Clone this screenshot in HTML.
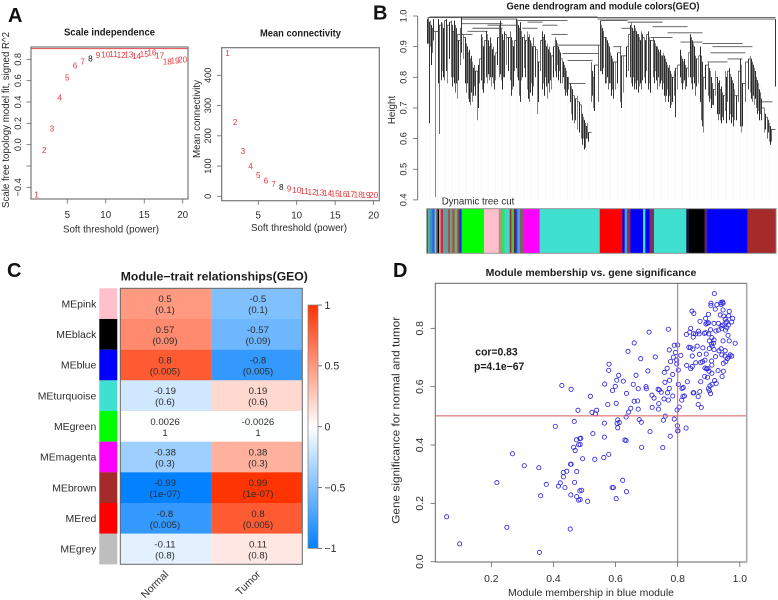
<!DOCTYPE html>
<html lang="en">
<head>
<meta charset="utf-8">
<title>WGCNA module analysis figure</title>
<style>
html,body{margin:0;padding:0;background:#fff;width:778px;height:600px;overflow:hidden}
svg{display:block;filter:blur(0.3px)}
text{font-family:"Liberation Sans",sans-serif;fill:#2c2c2c}
.bold{font-weight:bold;fill:#1c1c1c}
.panel{font-weight:bold;font-size:20px;fill:#111}
</style>
</head>
<body>
<svg id="figure" xmlns="http://www.w3.org/2000/svg" width="778" height="600" viewBox="0 0 778 600">
  <defs>
    <linearGradient id="corrGradient" x1="0" y1="0" x2="0" y2="1">
      <stop offset="0" stop-color="#ff3200"/>
      <stop offset="0.5" stop-color="#ffffff"/>
      <stop offset="1" stop-color="#0080ff"/>
    </linearGradient>
  </defs>
  <rect x="0" y="0" width="778" height="600" fill="#fff"/>

  <text class="panel" x="8" y="22">A</text>
  <text class="panel" x="373" y="19.5">B</text>
  <text class="panel" x="7" y="277">C</text>
  <text class="panel" x="393" y="277">D</text>

  <text class="bold" x="109.5" y="35.5" font-size="10" text-anchor="middle" textLength="91" lengthAdjust="spacingAndGlyphs">Scale independence</text>
  <text x="111" y="232.5" font-size="9.8" text-anchor="middle" textLength="96" lengthAdjust="spacingAndGlyphs">Soft threshold (power)</text>
  <text transform="translate(9,120) rotate(-90)" font-size="9.8" text-anchor="middle" textLength="176" lengthAdjust="spacingAndGlyphs">Scale free topology model fit, signed R^2</text>

  <text class="bold" x="300.5" y="36.5" font-size="10" text-anchor="middle" textLength="81" lengthAdjust="spacingAndGlyphs">Mean connectivity</text>
  <text x="299" y="231" font-size="9.8" text-anchor="middle" textLength="96" lengthAdjust="spacingAndGlyphs">Soft threshold (power)</text>
  <text transform="translate(200,119) rotate(-90)" font-size="9.8" text-anchor="middle" textLength="78" lengthAdjust="spacingAndGlyphs">Mean connectivity</text>

  <text class="bold" x="603" y="9.5" font-size="10" text-anchor="middle" textLength="193" lengthAdjust="spacingAndGlyphs">Gene dendrogram and module colors(GEO)</text>
  <text transform="translate(395,110) rotate(-90)" font-size="9.8" text-anchor="middle">Height</text>
  <text x="441.7" y="204.5" font-size="9.8" textLength="72.6" lengthAdjust="spacingAndGlyphs">Dynamic tree cut</text>

  <text class="bold" x="214.3" y="280.5" font-size="11.8" text-anchor="middle" textLength="187" lengthAdjust="spacingAndGlyphs">Module−trait relationships(GEO)</text>

  <text class="bold" x="591" y="276" font-size="10.2" text-anchor="middle" textLength="210.6" lengthAdjust="spacingAndGlyphs">Module membership vs. gene significance</text>
  <text x="591" y="596" font-size="10.4" text-anchor="middle" textLength="166" lengthAdjust="spacingAndGlyphs">Module membership in blue module</text>
  <text transform="translate(399.5,420.3) rotate(-90)" font-size="11" text-anchor="middle" textLength="207" lengthAdjust="spacingAndGlyphs">Gene significance for normal and tumor</text>
  <text class="bold" x="475.3" y="355.5" font-size="10.6" textLength="42.4" lengthAdjust="spacingAndGlyphs">cor=0.83</text>
  <text class="bold" x="474" y="370" font-size="10.6" textLength="50.3" lengthAdjust="spacingAndGlyphs">p=4.1e−67</text>
</svg>

<script>
// ---------- Panel A data ----------
const softPowers = [1,2,3,4,5,6,7,8,9,10,11,12,13,14,15,16,17,18,19,20];
const scaleFit = [-0.465,-0.05,0.15,0.444,0.63,0.744,0.78,0.806,0.84,0.845,0.85,0.84,0.845,0.83,0.85,0.865,0.835,0.78,0.79,0.8];
const meanConnectivity = [473,245,150,100,70,53,41,31,25,21,17.5,15,13,11,10,8,7,5.5,4.5,4];
const powerTicks = [5,10,15,20];
const scaleTicks = [-0.4,-0.2,0,0.2,0.4,0.6,0.8];
const scaleTickLabels = ["−0.4","","0.0","0.2","0.4","0.6","0.8"];
const connectivityTicks = [0,100,200,300,400];
const fitThreshold = 0.9;

// ---------- Panel B data: [leaf position, top height, bottom height] ----------
const branches = [
[0,.99,.91],[1,.995,.91],[2,.98,.65],[3,.985,.9],[4,.97,.84],[5,.96,.88],[6,.99,.92],[8,.95,.41],
[11,.99,.78],[12,.97,.615],[14,.98,.79],[15,.975,.82],[16,.96,.8],[17,.985,.79],[19,.99,.82],[20,.97,.78],[22,.98,.86],
[24,.985,.8],[25,.97,.77],[26,.95,.8],[27,.985,.78],[28,.97,.75],[29,.96,.78],[30,.94,.73],[31,.92,.79],[33,.96,.84],[34,.995,.88],[36,.94,.86],
[38,.93,.78],[39,.91,.75],[40,.9,.78],[41,.88,.73],[42,.89,.72],[43,.86,.71],[44,.87,.75],[45,.85,.72],[46,.83,.74],[47,.84,.77],[48,.82,.74],
[50,.82,.66],[51,.84,.7],[52,.86,.78],[54,.94,.79],[55,.93,.76],[56,.9,.75],[57,.92,.78],
[59,.95,.8],[60,.94,.78],[61,.92,.81],[62,.9,.79],[63,.93,.8],[64,.91,.77],[65,.89,.8],[66,.9,.78],[67,.87,.76],[68,.88,.79],[70,.93,.84],
[72,.97,.8],[73,.985,.81],[74,.96,.79],[75,.94,.76],[76,.92,.8],[77,.95,.8],[79,.94,.84],[81,.93,.82],
[83,.95,.79],[84,.93,.74],[85,.92,.76],[86,.9,.77],[87,.92,.82],
[89,.99,.83],[90,.985,.8],[91,.97,.79],[92,.96,.74],[93,.98,.72],[94,.95,.79],[95,.93,.8],[97,.94,.83],[98,.92,.8],
[100,.95,.76],[101,.93,.73],[102,.94,.72],[103,.92,.75],[104,.91,.78],[105,.9,.74],[106,.93,.77],[108,.9,.8],[110,.89,.68],[111,.85,.72],[113,.92,.82],
[115,.95,.76],[116,.93,.78],[117,.94,.74],[118,.92,.8],[119,.9,.77],[120,.91,.73],[121,.89,.78],[122,.9,.75],[123,.88,.79],[124,.87,.76],[126,.9,.8],
[128,.93,.82],[129,.92,.8],[130,.91,.84],[131,.9,.79],[132,.89,.82],[133,.88,.78],
[135,.86,.78],[136,.85,.8],[137,.84,.76],[138,.83,.74],[139,.82,.75],[140,.8,.74],[141,.8,.76],
[143,.78,.72],[144,.77,.68],[145,.76,.66],[147,.74,.65],[148,.73,.66],
[150,.74,.63],[152,.72,.62],[154,.71,.6],[155,.68,.58],[156,.67,.6],[157,.66,.565],[158,.65,.57],[159,.64,.6],[160,.65,.6],[161,.62,.59],
[164,.85,.72],[165,.82,.74],[166,.8,.7],[167,.84,.69],[171,.905,.72],
[173,.985,.82],[174,.97,.82],[175,.96,.81],[176,.95,.83],[178,.93,.78],[179,.93,.78],[180,.92,.8],[181,.91,.76],[182,.9,.78],[183,.88,.78],[184,.87,.74],[185,.86,.76],[186,.85,.73],[188,.85,.76],[190,.88,.78],
[193,.9,.72],[194,.87,.7],[196,.87,.75],[199,.9,.8],[201,.94,.82],
[203,.97,.8],[204,.98,.78],[205,.96,.77],[206,.95,.8],[207,.97,.76],[208,.96,.78],[209,.95,.76],[210,.94,.79],[211,.94,.75],[212,.93,.77],[213,.92,.78],[214,.95,.76],[215,.94,.79],
[217,.93,.8],[218,.92,.78],[219,.94,.82],[221,.95,.76],[222,.93,.78],[223,.92,.75],
[226,.93,.8],[227,.92,.78],[228,.91,.82],[229,.9,.79],[230,.9,.76],[231,.89,.8],[232,.88,.77],[233,.89,.78],[234,.87,.79],[235,.87,.76],
[236,.88,.78],[237,.87,.74],[238,.86,.72],[239,.85,.74],[240,.84,.76],[241,.83,.72],[242,.84,.74],[243,.82,.7],[244,.81,.71],[245,.8,.72],[247,.82,.74],[248,.83,.67],[250,.84,.76],
[253,.89,.8],[254,.87,.78],[255,.86,.76],[256,.85,.78],[257,.86,.79],[258,.84,.76],[259,.83,.77],[261,.88,.8],
[263,.94,.8],[264,.93,.78],[265,.92,.76],[266,.91,.8],[267,.9,.78],[268,.87,.74],[269,.86,.77],[271,.87,.78],
[273,.9,.72],[274,.87,.66],[275,.85,.64],[276,.8,.62],[278,.84,.76],
[281,.85,.74],[282,.83,.72],[283,.82,.73],[284,.8,.7],[285,.78,.71],[286,.76,.71],[288,.82,.74],
[290,.8,.68],[291,.78,.66],[292,.79,.68],[293,.76,.66],[294,.77,.65],[295,.75,.67],[296,.74,.66],[298,.82,.69],[299,.8,.65],[300,.82,.72],
[302,.83,.66],[303,.81,.68],[304,.8,.65],[305,.79,.67],[306,.78,.64],[307,.76,.66],[309,.74,.66],[311,.82,.72],
[313,.86,.64],[314,.84,.62],[315,.78,.64],[318,.85,.72],[321,.86,.76],
[323,.87,.75],[324,.86,.73],[325,.85,.72],[326,.84,.74],[327,.83,.71],[328,.82,.73],[329,.8,.7],
[330,.79,.68],[331,.78,.69],[332,.76,.66],[333,.75,.68],[334,.73,.66],
[337,.7,.62],[338,.68,.63],[340,.67,.6],[341,.66,.62],[342,.65,.59],[343,.64,.58],[344,.63,.59],[348,.99,.77]
];
// [start leaf, end leaf, height]
const links = [
[2,348,.995],[2,170,.997],[0,30,.995],[34,90,.99],[60,90,.97],[34,75,.975],[100,115,.98],[90,140,.985],[115,130,.97],
[124,140,.94],[131,171,.905],[135,171,.878],[140,165,.855],[143,158,.78],[170,348,.99],[173,200,.985],[200,235,.98],
[225,260,.965],[240,275,.945],[253,275,.915],[275,315,.91],[285,325,.9],[283,318,.88],[280,300,.85],
[40,60,.95],[45,75,.96],[95,110,.96],[30,45,.94],[186,194,.9],[194,204,.96],[223,245,.93],[300,315,.86],[330,345,.72]
];
const moduleColors = ["#2050d0","#50b090","#4090c0","#3060e0","#40e0d0","#a52a2a","#000000","#d89090","#c03040","#60a0a0","#a05050","#70a080","#a05050","#70b070","#a04040","#1030f0","#00ff00","#ffc0cb","#b89080","#30e060","#40d8c8","#a52a2a","#50c050","#602020","#2040e0","#50a0f0","#806060","#ff00ff","#40e0d0","#ff0000","#0000ff","#40a0e0","#9a3040","#0000ff","#40e0d0","#0000ff","#803060","#40e0d0","#101040","#000000","#502090","#0000ff","#a52a2a"];
const moduleSizes = [4,5,8,7,5,5,3,5,7,15,6,7,7,8,6,7,67,44,8,10,15,5,8,4,6,7,13,47,180,68,7,7,10,38,7,13,13,97,7,48,8,120,86];
const heightTicks = [0.4,0.5,0.6,0.7,0.8,0.9,1.0];

// ---------- Panel C data ----------
const moduleNames = ["MEpink","MEblack","MEblue","MEturquoise","MEgreen","MEmagenta","MEbrown","MEred","MEgrey"];
const moduleStrip = ["#ffc0cb","#000000","#0000ff","#40e0d0","#00ff00","#ff00ff","#a52a2a","#ff0000","#bebebe"];
const traitNames = ["Normal","Tumor"];
const normalCor = [0.5,0.57,0.8,-0.19,0.0026,-0.38,-0.99,-0.8,-0.11];
const tumorCor = [-0.5,-0.57,-0.8,0.19,-0.0026,0.38,0.99,0.8,0.11];
const pValueText = ["(0.1)","(0.09)","(0.005)","(0.6)","1","(0.3)","(1e-07)","(0.005)","(0.8)"];
const legendTicks = [1,0.5,0,-0.5,-1];
const legendLabels = ["1","0.5","0","−0.5","−1"];

// ---------- Panel D data ----------
const membership = [.918,.907,.907,.926,.939,.945,.94,.946,.921,.946,.966,.937,.948,.964,.953,.977,.974,.958,.963,.955,.945,.94,.931,.917,.899,.891,.895,.899,.89,.846,.852,.872,.906,.891,.886,.9,.923,.931,.942,.958,.962,.954,.91,.902,.917,.946,.966,.985,.915,.909,.911,.902,.917,.94,.933,.953,.942,.952,.969,.974,.965,.96,.955,.947,.93,.947,.943,.919,.924,.911,.904,.902,.899,.906,.91,.897,.893,.888,.901,.896,.887,.909,.91,.922,.888,.88,.87,.858,.874,.847,.836,.841,.849,.863,.881,.892,.869,.867,.858,.85,.851,.842,.839,.828,.847,.842,.829,.874,.85,.852,.871,.866,.866,.876,.831,.818,.814,.822,.813,.817,.805,.81,.797,.786,.777,.793,.8,.789,.773,.77,.708,.66,.64,.681,.728,.579,.578,.704,.757,.766,.784,.774,.759,.802,.797,.802,.61,.666,.604,.625,.565,.599,.59,.657,.673,.698,.699,.635,.519,.717,.724,.737,.741,.747,.773,.767,.784,.756,.77,.739,.718,.738,.673,.66,.671,.575,.602,.649,.642,.524,.539,.535,.634,.76,.754,.789,.798,.676,.683,.607,.605,.612,.564,.607,.799,.827,.801,.527,.564,.711,.776,.8,.63,.634,.684,.752,.578,.562,.533,.494,.488,.486,.623,.589,.593,.635,.602,.491,.486,.51,.427,.457,.479,.467,.406,.474,.485,.465,.47,.481,.268,.306,.353,.455,.457,.432,.443,.475,.432,.218,.377,.422,.416,.437,.468,.359,.456,.475,.481,.485,.056,.25,.454,.098,.355];
const significance = [.919,.886,.878,.881,.888,.89,.882,.886,.866,.863,.858,.846,.842,.843,.831,.834,.822,.823,.811,.819,.811,.808,.817,.817,.819,.815,.817,.848,.834,.859,.851,.824,.795,.785,.783,.781,.791,.794,.8,.802,.776,.794,.768,.757,.76,.757,.757,.749,.749,.746,.739,.731,.727,.73,.723,.723,.709,.705,.709,.705,.702,.696,.686,.68,.655,.653,.635,.621,.611,.608,.603,.586,.593,.576,.646,.662,.661,.664,.653,.632,.635,.688,.674,.703,.691,.686,.711,.682,.683,.705,.735,.734,.729,.739,.733,.712,.781,.79,.781,.77,.782,.8,.787,.779,.669,.662,.673,.617,.579,.579,.583,.566,.539,.529,.617,.597,.594,.568,.554,.566,.53,.707,.691,.701,.686,.717,.743,.742,.726,.797,.787,.75,.721,.696,.702,.677,.656,.654,.649,.663,.642,.622,.615,.608,.678,.657,.639,.639,.622,.619,.609,.601,.587,.608,.593,.6,.593,.577,.567,.571,.561,.591,.589,.581,.594,.579,.568,.558,.554,.542,.529,.523,.523,.55,.551,.539,.543,.526,.513,.512,.519,.507,.496,.499,.485,.489,.52,.487,.478,.486,.474,.477,.475,.459,.466,.458,.449,.439,.427,.446,.43,.448,.417,.415,.392,.391,.368,.357,.351,.353,.423,.402,.279,.254,.254,.24,.216,.245,.213,.207,.604,.591,.519,.481,.464,.418,.422,.392,.381,.401,.37,.329,.322,.334,.334,.306,.31,.309,.291,.271,.265,.27,.259,.254,.272,.226,.229,.223,.211,.243,.154,.118,.112,.061,.032];
const membershipTicks = [0.2,0.4,0.6,0.8,1.0];
const membershipTickLabels = ["0.2","0.4","0.6","0.8","1.0"];
const significanceTicks = [0,0.2,0.4,0.6,0.8];
const significanceTickLabels = ["0.0","0.2","0.4","0.6","0.8"];
const membershipCut = 0.8;
const significanceCut = 0.5;

// ---------- Scales ----------
const svg = document.getElementById('figure');
const NS = 'http://www.w3.org/2000/svg';
const scaleX = v => 28.83 + 7.693 * v;
const scaleY = v => 144.7 - 106.7 * v;
const connX = v => 219.8 + 7.69 * v;
const connY = v => 196.3 - 0.3025 * v;
const leafX = v => 427.5 + v;
const heightY = v => 16 + (1 - v) * 306.5;
const scatterX = v => 429.2 + 310.6 * v;
const scatterY = v => 561.7 - 291.7 * v;
const legendY = v => 426.7 - 121.7 * v;
const ROW_TOP = 288.3, ROW_H = 30.67;
const rowY = i => ROW_TOP + i * ROW_H;

function corColor(v) {
  const t = Math.abs(v);
  if (v < 0) return 'rgb(' + Math.round(255 * (1 - t)) + ',' + Math.round(255 - 127 * t) + ',255)';
  return 'rgb(255,' + Math.round(255 - 205 * t) + ',' + Math.round(255 * (1 - t)) + ')';
}
function make(tag, attrs, parent) {
  const node = document.createElementNS(NS, tag);
  for (const k in attrs) node.setAttribute(k, attrs[k]);
  (parent || svg).appendChild(node);
  return node;
}
function group() {
  return make('g', {});
}

// ---------- Panel A: scale independence ----------
const gScale = group();


const scaleBox = make('rect', {x:31, y:47, width:157, height:152, fill:'none', stroke:'#777', 'stroke-width':1.2}, gScale);


const fitLine = make('line', {x1:31, x2:188, y1:scaleY(fitThreshold), y2:scaleY(fitThreshold), stroke:'#e8484c', 'stroke-width':1}, gScale);


powerTicks.forEach(t => {
  const tick = make('line', {x1:scaleX(t), x2:scaleX(t), y1:199, y2:203.5, stroke:'#666', 'stroke-width':0.8}, gScale);
  
  
  const lab = make('text', {x:scaleX(t), y:218, 'font-size':9.8, 'text-anchor':'middle'}, gScale);
  
  
  lab.textContent = t;
});
scaleTicks.forEach((t, i) => {
  const tick = make('line', {x1:26.5, x2:31, y1:scaleY(t), y2:scaleY(t), stroke:'#666', 'stroke-width':0.8}, gScale);
  
  
  if (scaleTickLabels[i]) {
    const lab = make('text', {transform:'translate(21,' + scaleY(t) + ') rotate(-90)', 'font-size':9.2, 'text-anchor':'middle'}, gScale);
    
    
    lab.textContent = scaleTickLabels[i];
  }
});
softPowers.forEach((p, i) => {
  const lab = make('text', {x:scaleX(p), y:scaleY(scaleFit[i]) + 3, 'font-size':8.2, 'text-anchor':'middle'}, gScale);
  
  
  lab.style.fill = p === 8 ? '#111' : '#e53a40';
  lab.textContent = p;
});

// ---------- Panel A: mean connectivity ----------
const gConn = group();


const connBox = make('rect', {x:221.7, y:47.7, width:157.6, height:153, fill:'none', stroke:'#777', 'stroke-width':1.2}, gConn);


powerTicks.forEach(t => {
  const tick = make('line', {x1:connX(t), x2:connX(t), y1:200.7, y2:205, stroke:'#666', 'stroke-width':0.8}, gConn);
  
  
  const lab = make('text', {x:connX(t), y:218.5, 'font-size':9.8, 'text-anchor':'middle'}, gConn);
  
  
  lab.textContent = t;
});
connectivityTicks.forEach(t => {
  const tick = make('line', {x1:217, x2:221.7, y1:connY(t), y2:connY(t), stroke:'#666', 'stroke-width':0.8}, gConn);
  
  
  const lab = make('text', {transform:'translate(211,' + connY(t) + ') rotate(-90)', 'font-size':9.2, 'text-anchor':'middle'}, gConn);
  
  
  lab.textContent = t;
});
softPowers.forEach((p, i) => {
  const lab = make('text', {x:connX(p), y:connY(meanConnectivity[i]) + 3, 'font-size':8.2, 'text-anchor':'middle'}, gConn);
  
  
  lab.style.fill = p === 8 ? '#111' : '#e53a40';
  lab.textContent = p;
});

// ---------- Panel B: dendrogram ----------
const gTree = group();


for (let p = 3; p < 350; p += 7.2) {
  const guide = make('line', {x1:leafX(p), x2:leafX(p), y1:heightY(0.78), y2:200, stroke:'#e8e8e8', 'stroke-width':0.6, 'stroke-dasharray':'1 1'}, gTree);
  
  
}
const axisTree = make('line', {x1:417.7, x2:417.7, y1:heightY(1), y2:heightY(0.4), stroke:'#666', 'stroke-width':0.9}, gTree);


heightTicks.forEach(t => {
  const tick = make('line', {x1:413, x2:417.7, y1:heightY(t), y2:heightY(t), stroke:'#666', 'stroke-width':0.8}, gTree);
  
  
  const lab = make('text', {transform:'translate(406.5,' + heightY(t) + ') rotate(-90)', 'font-size':9.2, 'text-anchor':'middle'}, gTree);
  
  
  lab.textContent = t.toFixed(1);
});
links.forEach(l => {
  const link = make('line', {x1:leafX(l[0]), x2:leafX(l[1]), y1:heightY(l[2]), y2:heightY(l[2]), stroke:'#555', 'stroke-width':0.9}, gTree);
  
  
});
const branchShades = ['#111111', '#5a5a5a', '#222222', '#7a7a7a'];
branches.forEach((b, i) => {
  const branch = make('line', {x1:leafX(b[0]), x2:leafX(b[0]), y1:heightY(b[1]), y2:heightY(b[2]), stroke:branchShades[i % 4], 'stroke-width':0.9}, gTree);
  
  
  const next = branches[i + 1];
  if (next && next[0] - b[0] <= 4) {
    const stair = make('line', {x1:leafX(b[0]), x2:leafX(next[0]), y1:heightY(Math.min(b[1], next[1])), y2:heightY(Math.min(b[1], next[1])), stroke:'#444', 'stroke-width':0.8}, gTree);
    
    
  }
});

// module colour bar
const gBar = group();


const totalGenes = moduleSizes.reduce((a, b) => a + b, 0);
const geneX = v => 426.7 + v * 349.3 / totalGenes;
let cumulative = 0;
moduleSizes.forEach((s, i) => {
  const seg = make('rect', {x:geneX(cumulative), y:208.7, width:geneX(s) - geneX(0) + 0.2, height:44.6, fill:moduleColors[i]}, gBar);
  
  
  cumulative += s;
});
const barFrame = make('rect', {x:426.7, y:208.7, width:349.3, height:44.6, fill:'none', stroke:'#888', 'stroke-width':0.9}, gBar);



// ---------- Panel C: heatmap ----------
const gHeat = group();


const colX = [120.3, 211.3];
const colW = [91, 91];
const textX = [165, 258];
moduleNames.forEach((name, i) => {
  const swatch = make('rect', {x:99.3, y:rowY(i), width:18, height:ROW_H + 0.1, fill:moduleStrip[i]}, gHeat);
  
  
  const lab = make('text', {x:96.3, y:rowY(i) + 19, 'font-size':10.45, 'text-anchor':'end'}, gHeat);
  
  
  lab.textContent = name;
  [normalCor[i], tumorCor[i]].forEach((v, c) => {
    const cell = make('rect', {x:colX[c], y:rowY(i), width:colW[c] + 0.1, height:ROW_H + 0.1, fill:corColor(v)}, gHeat);
    
    
    const top = make('text', {x:textX[c], y:rowY(i) + 13.8, 'font-size':9.6, 'text-anchor':'middle'}, gHeat);
    
    
    top.textContent = String(v);
    const bottom = make('text', {x:textX[c], y:rowY(i) + 24.8, 'font-size':9.6, 'text-anchor':'middle'}, gHeat);
    
    
    bottom.textContent = pValueText[i];
  });
});
const heatFrame = make('rect', {x:120.3, y:288.3, width:182, height:276, fill:'none', stroke:'#666', 'stroke-width':1}, gHeat);


const traitAnchors = [[169, 575], [261, 575]];
traitNames.forEach((t, i) => {
  const lab = make('text', {transform:'translate(' + traitAnchors[i][0] + ',' + traitAnchors[i][1] + ') rotate(-45)', 'font-size':10.4, 'text-anchor':'end'}, gHeat);
  
  
  lab.textContent = t;
});
const gLegend = group();


const legendBar = make('rect', {x:308, y:legendY(1), width:10, height:legendY(-1) - legendY(1), fill:'url(#corrGradient)', stroke:'#888', 'stroke-width':0.8}, gLegend);


legendTicks.forEach((t, i) => {
  const tick = make('line', {x1:318, x2:322, y1:legendY(t), y2:legendY(t), stroke:'#555', 'stroke-width':0.8}, gLegend);
  
  
  const lab = make('text', {x:324.5, y:legendY(t) + 3.8, 'font-size':10.6}, gLegend);
  
  
  lab.textContent = legendLabels[i];
});

// ---------- Panel D: scatter ----------
const gScatter = group();


membership.forEach((m, i) => {
  const dot = make('circle', {cx:scatterX(m), cy:scatterY(significance[i]), r:2.1, fill:'none', stroke:'#2c24e0', 'stroke-width':0.85}, gScatter);
  
  
});
const cutV = make('line', {x1:scatterX(membershipCut), x2:scatterX(membershipCut), y1:283.3, y2:562, stroke:'#d8595c', 'stroke-width':1}, gScatter);


const cutH = make('line', {x1:435.3, x2:746.7, y1:scatterY(significanceCut), y2:scatterY(significanceCut), stroke:'#d8595c', 'stroke-width':1}, gScatter);


const scatterFrame = make('rect', {x:435.3, y:283.3, width:311.4, height:278.7, fill:'none', stroke:'#666', 'stroke-width':1}, gScatter);


const rightEdge = make('line', {x1:746.7, x2:746.7, y1:283.3, y2:562, stroke:'#a8a8a8', 'stroke-width':1.6}, gScatter);


membershipTicks.forEach((t, i) => {
  const tick = make('line', {x1:scatterX(t), x2:scatterX(t), y1:562, y2:567, stroke:'#666', 'stroke-width':0.8}, gScatter);
  
  
  const lab = make('text', {x:scatterX(t), y:582, 'font-size':10.4, 'text-anchor':'middle'}, gScatter);
  
  
  lab.textContent = membershipTickLabels[i];
});
significanceTicks.forEach((t, i) => {
  const tick = make('line', {x1:430.5, x2:435.3, y1:scatterY(t), y2:scatterY(t), stroke:'#666', 'stroke-width':0.8}, gScatter);
  
  
  const lab = make('text', {transform:'translate(423,' + scatterY(t) + ') rotate(-90)', 'font-size':10.4, 'text-anchor':'middle'}, gScatter);
  
  
  lab.textContent = significanceTickLabels[i];
});
</script>
</body>
</html>
